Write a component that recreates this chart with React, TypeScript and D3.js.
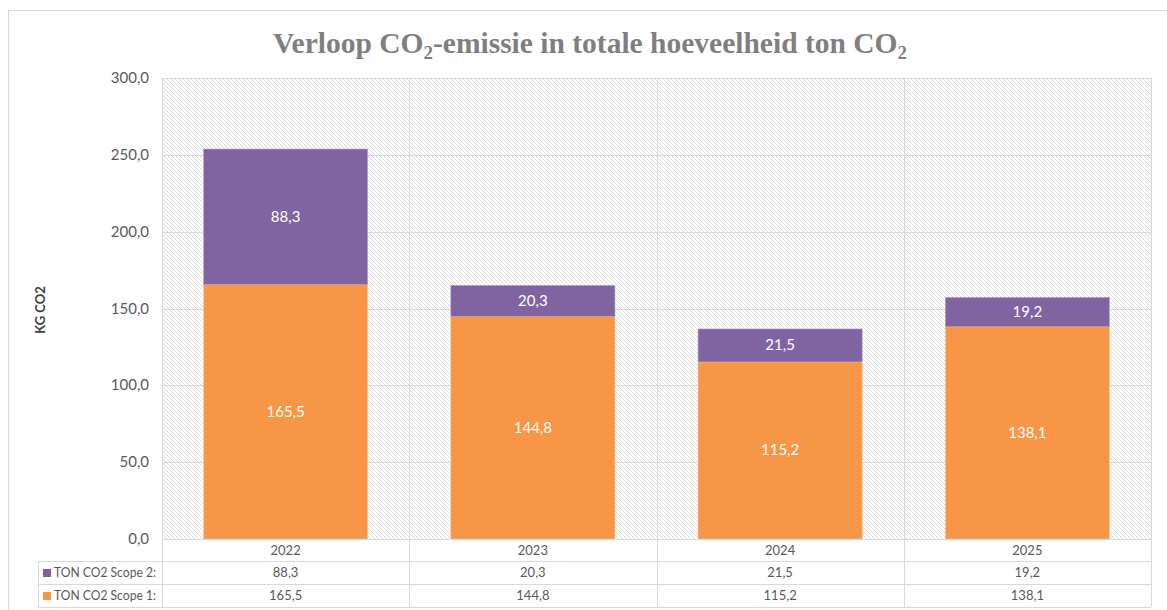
import React from 'react';
import * as d3 from 'd3';

const years = ['2022', '2023', '2024', '2025'];
const scope1 = [165.5, 144.8, 115.2, 138.1];
const scope2 = [88.3, 20.3, 21.5, 19.2];
const yTicks = [0, 50, 100, 150, 200, 250, 300];
const seriesNames = ['TON CO2 Scope 2:', 'TON CO2 Scope 1:'];

const W = 1167;
const H = 610;
const left = 162;
const right = 1151;
const top = 78;
const bottom = 539;

const purple = '#8064a2';
const orange = '#f79646';
const grid = '#d9d9d9';
const textCol = '#595959';
const font = 'Lato, "Open Sans", sans-serif';

const fmt = (v: number) => v.toFixed(1).replace('.', ',');

export default function App() {
  const x = d3.scaleBand<string>().domain(years).range([left, right]).padding(0);
  const y = d3.scaleLinear().domain([0, 300]).range([bottom, top]);
  const bw = x.bandwidth() * 0.664;

  const rowTops = [bottom, 561, 584];
  const rowBottom = 607;

  return (
    <svg width={W} height={H} style={{ position: 'absolute', left: 0, top: 0, background: '#fff' }}>
      <defs>
        <pattern id="hatch" width={4} height={4} patternUnits="userSpaceOnUse">
          <rect width={4} height={4} fill="#fff" />
          <path d="M-1,-1 L5,5 M-1,3 L1,5 M3,-1 L5,1" stroke="#dcdcdc" strokeWidth={1} />
        </pattern>
      </defs>

      {/* chart frame */}
      <rect x={8.5} y={10.5} width={W} height={H} fill="#fff" stroke={grid} />

      {/* title */}
      <text x={590} y={53} textAnchor="middle" fontFamily='"Liberation Serif", serif' fontWeight="bold" fontSize={29.5} fill="#7f7f7f">
        Verloop CO<tspan fontSize={19} dy={6}>2</tspan><tspan dy={-6}>-emissie in totale hoeveelheid ton CO</tspan><tspan fontSize={19} dy={6}>2</tspan>
      </text>

      {/* plot area */}
      <rect x={left} y={top} width={right - left} height={bottom - top} fill="url(#hatch)" />
      {yTicks.map(t => (
        <g key={t}>
          <line x1={left} x2={right} y1={Math.round(y(t)) + 0.5} y2={Math.round(y(t)) + 0.5} stroke={grid} />
          <text x={149} y={y(t) + 5} textAnchor="end" fontFamily={font} fontSize={15} fill={textCol}>{fmt(t)}</text>
        </g>
      ))}
      {years.map(yr => (
        <line key={yr} x1={Math.round(x(yr)!) + 0.5} x2={Math.round(x(yr)!) + 0.5} y1={top} y2={rowBottom} stroke={grid} />
      ))}
      <line x1={right + 0.5} x2={right + 0.5} y1={top} y2={rowBottom} stroke={grid} />

      {/* y axis title */}
      <text transform="translate(45,310) rotate(-90)" textAnchor="middle" fontFamily={font} fontWeight="bold" fontSize={13} fill="#404040">KG CO2</text>

      {/* bars */}
      {years.map((yr, i) => {
        const bx = x(yr)! + (x.bandwidth() - bw) / 2;
        const s1top = y(scope1[i]);
        const s2top = y(scope1[i] + scope2[i]);
        return (
          <g key={yr}>
            <rect x={bx} y={s1top} width={bw} height={bottom - s1top} fill={orange} stroke="#fbcaa2" strokeWidth={0.6} />
            <rect x={bx} y={s2top} width={bw} height={s1top - s2top} fill={purple} stroke="#b9a9cc" strokeWidth={0.6} />
            <text x={bx + bw / 2} y={(s1top + bottom) / 2 + 5} textAnchor="middle" fontFamily={font} fontSize={15} fill="#fff">{fmt(scope1[i])}</text>
            <text x={bx + bw / 2} y={(s2top + s1top) / 2 + 5} textAnchor="middle" fontFamily={font} fontSize={15} fill="#fff">{fmt(scope2[i])}</text>
          </g>
        );
      })}

      {/* data table */}
      <line x1={38} x2={right} y1={rowTops[1] + 0.5} y2={rowTops[1] + 0.5} stroke={grid} />
      <line x1={38} x2={right} y1={rowTops[2] + 0.5} y2={rowTops[2] + 0.5} stroke={grid} />
      <line x1={38} x2={right} y1={rowBottom + 0.5} y2={rowBottom + 0.5} stroke={grid} />
      <line x1={38.5} x2={38.5} y1={rowTops[1]} y2={rowBottom} stroke={grid} />
      {years.map((yr, i) => (
        <g key={yr}>
          <text x={x(yr)! + x.bandwidth() / 2} y={555} textAnchor="middle" fontFamily={font} fontSize={13} fill={textCol}>{yr}</text>
          <text x={x(yr)! + x.bandwidth() / 2} y={577} textAnchor="middle" fontFamily={font} fontSize={13} fill={textCol}>{fmt(scope2[i])}</text>
          <text x={x(yr)! + x.bandwidth() / 2} y={600} textAnchor="middle" fontFamily={font} fontSize={13} fill={textCol}>{fmt(scope1[i])}</text>
        </g>
      ))}
      {seriesNames.map((name, i) => (
        <g key={name}>
          <rect x={43} y={rowTops[i + 1] + 8} width={8} height={8} fill={i === 0 ? purple : orange} />
          <text x={54} y={rowTops[i + 1] + 16} fontFamily={font} fontSize={13} fill={textCol} textLength={102} lengthAdjust="spacingAndGlyphs">{name}</text>
        </g>
      ))}
    </svg>
  );
}
